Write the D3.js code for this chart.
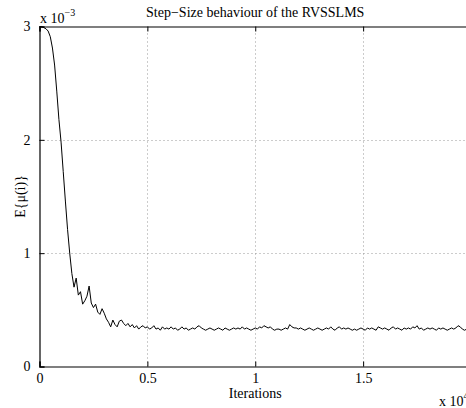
<!DOCTYPE html>
<html>
<head>
<meta charset="utf-8">
<script src="https://cdn.jsdelivr.net/npm/d3@7"></script>
<style>
  body { margin: 0; background: #fff; }
  svg { display: block; font-family: "Liberation Serif", "Times New Roman", serif; }
</style>
</head>
<body>
<div id="chart"></div>
<script>
// E{mu(i)} in units of 1e-3, one sample every STEP iterations
const STEP = 100
const MU = [
  3.00, 3.00, 2.99, 2.98, 2.96, 2.91, 2.81, 2.66, 2.43, 2.18, 1.98,
  1.72, 1.46, 1.21, 1.00, 0.82, 0.70, 0.78, 0.63, 0.66, 0.55,
  0.58, 0.62, 0.71, 0.56, 0.52, 0.55, 0.48, 0.46, 0.51, 0.47,
  0.42, 0.39, 0.35, 0.41, 0.37, 0.35, 0.40, 0.41, 0.38, 0.36,
  0.38, 0.35, 0.37, 0.34, 0.36, 0.33, 0.35, 0.36, 0.34, 0.35,
  0.33, 0.34, 0.36, 0.33, 0.34, 0.32, 0.35, 0.33, 0.34, 0.33,
  0.35, 0.33, 0.34, 0.32, 0.33, 0.35, 0.33, 0.34, 0.32, 0.33,
  0.34, 0.33, 0.35, 0.36, 0.34, 0.33, 0.32, 0.33, 0.34, 0.33,
  0.32, 0.33, 0.34, 0.33, 0.32, 0.34, 0.33, 0.32, 0.33, 0.34,
  0.33, 0.34, 0.33, 0.35, 0.33, 0.34, 0.33, 0.32, 0.33, 0.34,
  0.33, 0.35, 0.34, 0.36, 0.35, 0.34, 0.35, 0.33, 0.32, 0.33,
  0.33, 0.32, 0.33, 0.34, 0.33, 0.37, 0.35, 0.34, 0.34, 0.33,
  0.34, 0.33, 0.32, 0.33, 0.34, 0.33, 0.32, 0.33, 0.34, 0.33,
  0.32, 0.33, 0.34, 0.33, 0.35, 0.33, 0.32, 0.34, 0.35, 0.33,
  0.34, 0.33, 0.34, 0.33, 0.32, 0.33, 0.32, 0.33, 0.34, 0.33,
  0.32, 0.34, 0.33, 0.34, 0.33, 0.32, 0.35, 0.34, 0.33, 0.34,
  0.33, 0.32, 0.34, 0.35, 0.33, 0.34, 0.33, 0.32, 0.34, 0.33,
  0.34, 0.33, 0.35, 0.34, 0.36, 0.33, 0.34, 0.32, 0.33, 0.34,
  0.33, 0.34, 0.33, 0.32, 0.34, 0.33, 0.34, 0.33, 0.32, 0.33,
  0.34, 0.33, 0.34, 0.36, 0.35, 0.33, 0.32, 0.33, 0.34, 0.33
]

const X_TICKS = [0, 0.5, 1, 1.5]   // x 10^4
const Y_TICKS = [0, 1, 2, 3]       // x 10^-3

const W = 466, H = 408
const FONT = '"Liberation Serif", "Times New Roman", serif'
const margin = { top: 26.5, left: 39.5, bottom: 41.5 }
const plotRight = 471  // axes box runs past the window edge

const svg = d3.select('#chart').append('svg')
  .attr('width', W)
  .attr('height', H)

const x = d3.scaleLinear().domain([0, 2]).range([margin.left, plotRight])
const y = d3.scaleLinear().domain([0, 3]).range([H - margin.bottom, margin.top])

// grid
const grid = svg.append('g')
  .attr('stroke', '#999')
  .attr('stroke-width', 1)
  .attr('stroke-dasharray', '1,3')
grid.selectAll('.gx').data(X_TICKS.filter(d => d > 0)).join('line')
  .attr('x1', d => Math.round(x(d)) + 0.5).attr('x2', d => Math.round(x(d)) + 0.5)
  .attr('y1', y(0)).attr('y2', y(3))
grid.selectAll('.gy').data(Y_TICKS.filter(d => d > 0 && d < 3)).join('line')
  .attr('y1', d => Math.round(y(d)) + 0.5).attr('y2', d => Math.round(y(d)) + 0.5)
  .attr('x1', x(0)).attr('x2', x(2))

// curve
const line = d3.line()
  .x((d, i) => x(i * STEP / 10000))
  .y(d => y(d))

svg.append('path')
  .datum(MU)
  .attr('fill', 'none')
  .attr('stroke', '#000')
  .attr('stroke-width', 1)
  .attr('stroke-linejoin', 'round')
  .attr('d', line)

// axes (ticks inward, MATLAB style)
const fmt = d => String(d)
svg.append('g')
  .attr('transform', `translate(0,${y(0)})`)
  .call(d3.axisBottom(x).tickValues(X_TICKS).tickSize(-5).tickPadding(7).tickFormat(fmt))
svg.append('g')
  .attr('transform', `translate(0,${y(3)})`)
  .call(d3.axisTop(x).tickValues(X_TICKS).tickSize(-5).tickFormat(''))
svg.append('g')
  .attr('transform', `translate(${x(0)},0)`)
  .call(d3.axisLeft(y).tickValues(Y_TICKS).tickSize(-5).tickPadding(9).tickFormat(fmt))

svg.selectAll('g').attr('font-family', FONT).attr('font-size', 14)
svg.selectAll('.domain').attr('stroke', '#000').attr('stroke-width', 1.2)
svg.selectAll('.tick line').attr('stroke', '#000')
svg.selectAll('.tick text').attr('fill', '#000')

// texts
svg.append('text')
  .attr('x', (margin.left + plotRight) / 2)
  .attr('y', 17)
  .attr('text-anchor', 'middle')
  .style('font-size', '14px')
  .text('Step\u2212Size behaviour of the RVSSLMS')

const yExp = svg.append('text')
  .attr('x', 40)
  .attr('y', 23)
  .style('font-size', '14px')
yExp.append('tspan').text('x 10')
yExp.append('tspan').attr('dy', -7).style('font-size', '10px').text('\u22123')

svg.append('text')
  .attr('transform', `translate(25,${(y(0) + y(3)) / 2}) rotate(-90)`)
  .attr('text-anchor', 'middle')
  .style('font-size', '14px')
  .text('E{\u03bc(i)}')

svg.append('text')
  .attr('x', (margin.left + plotRight) / 2)
  .attr('y', 398)
  .attr('text-anchor', 'middle')
  .style('font-size', '14px')
  .text('Iterations')

const xExp = svg.append('text')
  .attr('x', 439)
  .attr('y', 406)
  .style('font-size', '14px')
xExp.append('tspan').text('x 10')
xExp.append('tspan').attr('dy', -7).style('font-size', '10px').text('4')
</script>
</body>
</html>
